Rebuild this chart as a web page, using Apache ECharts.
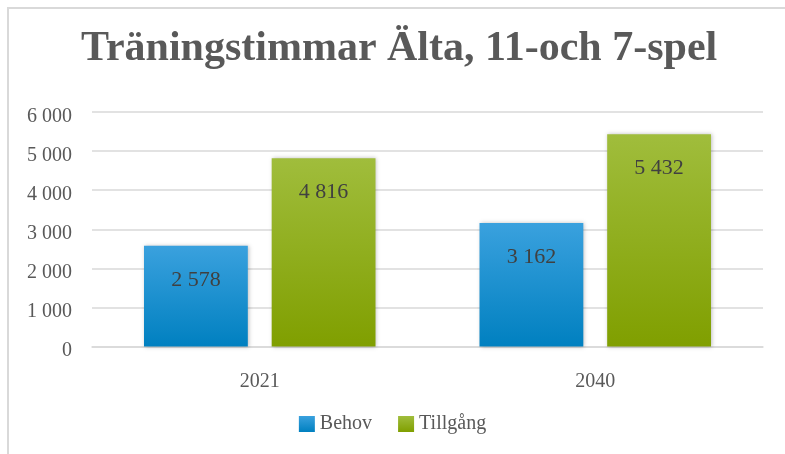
<!DOCTYPE html>
<html>
<head>
<meta charset="utf-8">
<script src="https://cdn.jsdelivr.net/npm/echarts@6/dist/echarts.min.js"></script>
<style>
  html, body { margin: 0; padding: 0; background: #fff; }
  #frame { position: absolute; left: 7px; top: 7px; width: 778px; height: 447px;
           border-top: 2px solid #d9d9d9; border-left: 2px solid #d9d9d9; box-sizing: border-box; }
  #chart { position: absolute; left: 0; top: 0; width: 785px; height: 454px; }
</style>
</head>
<body>
<div id="frame"></div>
<div id="chart"></div>
<script>
const titleText = 'Träningstimmar Älta, 11-och 7-spel';
const categories = ['2021', '2040'];
const behov = [2578, 3162];
const tillgang = [4816, 5432];
const yTicks = [0, 1000, 2000, 3000, 4000, 5000, 6000];

const serif = '"Liberation Serif", "DejaVu Serif", serif';
const fmt = v => String(v).replace(/\B(?=(\d{3})+(?!\d))/g, ' ');

function grad(top, bottom) {
  return new echarts.graphic.LinearGradient(0, 0, 0, 1, [
    { offset: 0, color: top }, { offset: 1, color: bottom }
  ]);
}

const labelCfg = {
  show: true,
  position: 'insideTop',
  distance: 23,
  fontFamily: serif,
  fontSize: 22,
  color: '#404040',
  formatter: p => fmt(p.value)
};

const chart = echarts.init(document.getElementById('chart'));
chart.setOption({
  animation: false,
  title: {
    text: titleText,
    left: 76,
    top: 23,
    textStyle: { fontFamily: serif, fontWeight: 'bold', fontSize: 42, color: '#595959' }
  },
  legend: {
    bottom: 15,
    left: 'center',
    itemWidth: 16,
    itemHeight: 16,
    itemGap: 26,
    icon: 'rect',
    textStyle: { fontFamily: serif, fontSize: 20, color: '#595959' },
    data: ['Behov', 'Tillgång']
  },
  grid: { left: 92, right: 22, top: 112, bottom: 107.5 },
  xAxis: {
    type: 'category',
    data: categories,
    axisLine: { show: true, lineStyle: { color: '#d9d9d9', width: 1.5 } },
    axisTick: { show: false },
    axisLabel: { fontFamily: serif, fontSize: 20, color: '#595959', margin: 25 }
  },
  yAxis: {
    type: 'value',
    min: yTicks[0],
    max: yTicks[yTicks.length - 1],
    interval: 1000,
    axisLine: { show: false },
    axisTick: { show: false },
    splitLine: { lineStyle: { color: '#d9d9d9', width: 1.5 } },
    axisLabel: {
      margin: 20,
      formatter: v => '{t|' + fmt(v) + '}',
      rich: {
        t: { fontFamily: serif, fontSize: 20, color: '#595959', padding: [9, 0, 0, 0] }
      }
    }
  },
  series: [
    {
      name: 'Behov',
      type: 'bar',
      data: behov,
      barGap: '23%',
      barCategoryGap: '31%',
      itemStyle: {
        color: grad('#3aa1de', '#0080c0'),
        shadowColor: 'rgba(0,0,0,0.25)', shadowBlur: 4, shadowOffsetX: 1
      },
      label: labelCfg
    },
    {
      name: 'Tillgång',
      type: 'bar',
      data: tillgang,
      itemStyle: {
        color: grad('#a0bd3c', '#809f00'),
        shadowColor: 'rgba(0,0,0,0.25)', shadowBlur: 4, shadowOffsetX: 1
      },
      label: labelCfg
    }
  ]
});
</script>
</body>
</html>
